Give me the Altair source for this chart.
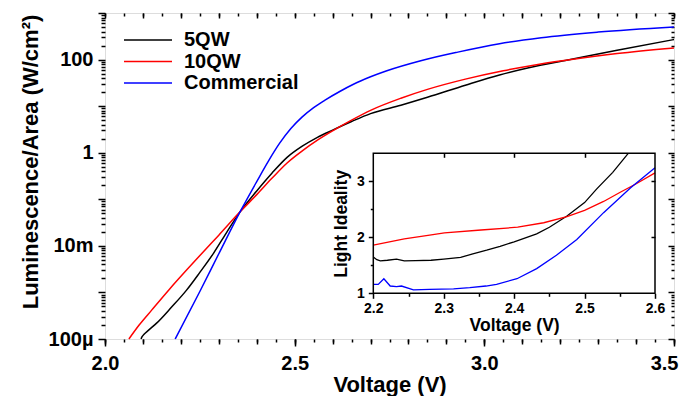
import math
import altair as alt
import pandas as pd

series_names = ["5QW", "10QW", "Commercial"]
series_colors = ["#000000", "#ff0000", "#0000ff"]

# ---- main plot: voltage (V) and log10 of luminescence/area (W/cm^2)
main_v_5qw = [2.095, 2.097, 2.103, 2.115, 2.136, 2.175, 2.215, 2.25, 2.286, 2.32, 2.356, 2.40, 2.44,
              2.48, 2.52, 2.56, 2.60, 2.65, 2.70, 2.78, 2.85, 2.95, 3.04, 3.12, 3.22, 3.35, 3.50]
main_lg_5qw = [-4.0, -3.96, -3.90, -3.81, -3.66, -3.32, -2.95, -2.57, -2.16, -1.72, -1.27, -0.82, -0.44,
               -0.10, 0.14, 0.33, 0.485, 0.67, 0.84, 1.02, 1.19, 1.45, 1.67, 1.83, 1.99, 2.20, 2.43]
main_v_10qw = [2.063, 2.09, 2.123, 2.17, 2.215, 2.26, 2.30, 2.356, 2.40, 2.44, 2.48, 2.52, 2.56, 2.60,
               2.65, 2.70, 2.78, 2.85, 2.95, 3.05, 3.13, 3.22, 3.35, 3.50]
main_lg_10qw = [-4.0, -3.70, -3.38, -2.93, -2.52, -2.12, -1.77, -1.27, -0.90, -0.55, -0.22, 0.04, 0.27,
                0.47, 0.70, 0.91, 1.17, 1.36, 1.58, 1.76, 1.88, 1.99, 2.13, 2.25]
main_v_comm = [2.185, 2.25, 2.30, 2.356, 2.40, 2.43, 2.46, 2.49, 2.52, 2.55, 2.58, 2.62, 2.655, 2.70,
               2.743, 2.83, 2.93, 3.04, 3.15, 3.30, 3.50]
main_lg_comm = [-4.0, -2.98, -2.17, -1.27, -0.62, -0.19, 0.20, 0.52, 0.77, 0.97, 1.13, 1.32, 1.47, 1.63,
                1.76, 1.97, 2.16, 2.34, 2.47, 2.59, 2.70]

# ---- inset: light ideality factor vs voltage
ins_v_5qw = [2.20, 2.205, 2.21, 2.22, 2.233, 2.244, 2.26, 2.282, 2.30, 2.324, 2.34, 2.361, 2.38, 2.40,
             2.432, 2.45, 2.475, 2.50, 2.517, 2.54, 2.562]
ins_i_5qw = [1.65, 1.60, 1.58, 1.59, 1.61, 1.58, 1.585, 1.59, 1.61, 1.64, 1.70, 1.77, 1.84, 1.92,
             2.06, 2.18, 2.38, 2.62, 2.86, 3.16, 3.50]
ins_v_10qw = [2.20, 2.244, 2.28, 2.301, 2.353, 2.405, 2.442, 2.475, 2.50, 2.527, 2.55, 2.574, 2.60]
ins_i_10qw = [1.86, 1.97, 2.04, 2.08, 2.13, 2.18, 2.26, 2.37, 2.48, 2.64, 2.80, 2.96, 3.15]
ins_v_comm = [2.20, 2.207, 2.215, 2.224, 2.233, 2.24, 2.257, 2.28, 2.314, 2.337, 2.36, 2.375, 2.404,
              2.432, 2.46, 2.489, 2.527, 2.565, 2.60]
ins_i_comm = [1.16, 1.16, 1.26, 1.13, 1.12, 1.13, 1.06, 1.07, 1.08, 1.10, 1.13, 1.16, 1.26,
              1.44, 1.68, 1.96, 2.44, 2.88, 3.24]

# ---- tick values / labels
main_x_labels = [2.0, 2.5, 3.0, 3.5]
main_y_labelled = [1e-4, 1e-2, 1.0, 1e2]
main_y_label_text = ["100µ", "10m", "1", "100"]
ins_x_labels = [2.2, 2.3, 2.4, 2.5, 2.6]
ins_y_labels = [1, 2, 3]

main_x_fine = [round(2.0 + 0.05 * i, 2) for i in range(31)]
main_x_mid = [round(2.0 + 0.1 * i, 1) for i in range(16)]
main_y_decades = [10.0 ** e for e in range(-4, 4)]
main_y_minor = [k * 10.0 ** e for e in range(-4, 3) for k in range(2, 10)]
ins_x_minor = [2.25, 2.35, 2.45, 2.55]
ins_y_minor = [1.5, 2.5]

rows = []
for name, vs, ls in [("5QW", main_v_5qw, main_lg_5qw), ("10QW", main_v_10qw, main_lg_10qw),
                     ("Commercial", main_v_comm, main_lg_comm)]:
    for i, (v, l) in enumerate(zip(vs, ls)):
        rows.append({"series": name, "V": v, "L": 10.0 ** l, "idx": i})
main_df = pd.DataFrame(rows)

rows = []
for name, vs, ls in [("5QW", ins_v_5qw, ins_i_5qw), ("10QW", ins_v_10qw, ins_i_10qw),
                     ("Commercial", ins_v_comm, ins_i_comm)]:
    for i, (v, l) in enumerate(zip(vs, ls)):
        rows.append({"series": name, "V": v, "I": l, "idx": i})
ins_df = pd.DataFrame(rows)

frame_df = pd.DataFrame({"x0": [2.2], "x1": [2.6], "y0": [1.0], "y1": [3.5]})

W, H = 569, 326
FONT = "Liberation Sans"

# inset placement inside plot area (pixels)
INS_X = [268.3, 550.0]
INS_Y = [280.3, 140.3]

def mx(axis):
    return alt.X("V:Q", scale=alt.Scale(domain=[2.0, 3.5], nice=False, zero=False), axis=axis)

def my(axis):
    return alt.Y("L:Q", scale=alt.Scale(type="log", domain=[1e-4, 1e3], nice=False), axis=axis)

def ix(axis, field="V:Q"):
    return alt.X(field, scale=alt.Scale(domain=[2.2, 2.6], range=INS_X, nice=False, zero=False), axis=axis)

def iy(axis, field="I:Q"):
    return alt.Y(field, scale=alt.Scale(domain=[1.0, 3.5], range=INS_Y, nice=False, zero=False), axis=axis)

ax_common = dict(domain=False, grid=False, tickColor="black", tickWidth=1.5, labelFlush=False)

label_expr = " : ".join(
    f"abs(log(datum.value)/log(10) - ({math.log10(v)})) < 0.01 ? '{t}'"
    for v, t in zip(main_y_labelled, main_y_label_text)
) + " : ''"

# main lines
main_lines = alt.Chart(main_df).mark_line(strokeWidth=1.5, interpolate="monotone").encode(
    x=mx(alt.Axis(orient="bottom", values=main_x_fine, tickSize=3, labels=False, title=None, **ax_common)),
    y=my(alt.Axis(orient="left", values=main_y_minor, tickSize=4, labels=False, title=None, **ax_common)),
    color=alt.Color("series:N", scale=alt.Scale(domain=series_names, range=series_colors),
                    legend=alt.Legend(orient="none", legendX=15, legendY=17, title=None,
                                      symbolType="M-1,0H7", symbolSize=144, symbolStrokeWidth=1.5,
                                      labelFontSize=20, labelFont=FONT, labelFontWeight="bold",
                                      labelColor="black", labelOffset=44, rowPadding=1.5,
                                      padding=0, labelLimit=300)),
    order="idx:Q",
)

main_b = alt.Chart(main_df).mark_point(opacity=0, size=1).encode(
    x=mx(alt.Axis(orient="bottom", values=main_x_mid, tickSize=5, labels=False, title=None, **ax_common)),
    y=my(alt.Axis(orient="left", values=main_y_decades, tickSize=7, labelExpr=label_expr, labelFontSize=20,
                  labelFont=FONT, labelFontWeight="bold", labelColor="black", labelPadding=5,
                  title="Luminescence/Area (W/cm²)", titleFont=FONT, titleFontSize=22,
                  titleFontWeight="bold", titleColor="black", titleX=-75, titleY=148.5,
                  titleAngle=270, titleBaseline="middle", titleAlign="center", **ax_common)),
)

# the last x label is kept inside the page edge
last_x = max(main_x_labels)
main_c = alt.Chart(main_df).mark_point(opacity=0, size=1).encode(
    x=mx(alt.Axis(orient="bottom", values=main_x_labels, tickSize=7, format=".1f", labelFontSize=20,
                  labelFont=FONT, labelFontWeight="bold", labelColor="black", labelPadding=7,
                  labelAlign={"condition": {"test": f"datum.value >= {last_x - 0.01}", "value": "right"},
                              "value": "center"},
                  labelOffset={"condition": {"test": f"datum.value >= {last_x - 0.01}", "value": 4},
                               "value": 0},
                  title="Voltage (V)", titleFont=FONT, titleFontSize=22, titleFontWeight="bold",
                  titleColor="black", titleY=52, titleBaseline="alphabetic", **ax_common)),
    y=my(None),
)

main_d = alt.Chart(main_df).mark_point(opacity=0, size=1).encode(
    x=mx(alt.Axis(orient="top", values=main_x_fine, tickSize=3, offset=-3, labels=False, title=None,
                  **ax_common)),
    y=my(alt.Axis(orient="right", values=main_y_minor, tickSize=3, offset=-3, labels=False, title=None,
                  **ax_common)),
)

main_e = alt.Chart(main_df).mark_point(opacity=0, size=1).encode(
    x=mx(alt.Axis(orient="top", values=main_x_mid, tickSize=5, offset=-5, labels=False, title=None,
                  **ax_common)),
    y=my(alt.Axis(orient="right", values=main_y_decades, tickSize=6, offset=-6, labels=False, title=None,
                  **ax_common)),
)

# inset
ins_lines = alt.Chart(ins_df).mark_line(strokeWidth=1.3).encode(
    x=ix(alt.Axis(orient="bottom", values=ins_x_labels, tickSize=5, offset=-(H - INS_Y[0]), format=".1f",
                  labelFontSize=14, labelFont=FONT, labelFontWeight="bold", labelColor="black",
                  labelPadding=3, title="Voltage (V)", titleFont=FONT, titleFontSize=17.5,
                  titleFontWeight="bold", titleColor="black", titleY=37, titleBaseline="alphabetic",
                  **ax_common)),
    y=iy(alt.Axis(orient="left", values=ins_y_labels, tickSize=5, offset=-INS_X[0], format="d",
                  labelFontSize=14, labelFont=FONT, labelFontWeight="bold", labelColor="black",
                  labelPadding=4, title="Light Ideality", titleFont=FONT, titleFontSize=17.5,
                  titleFontWeight="bold", titleColor="black", titleX=-32, titleBaseline="middle",
                  titleAngle=270, titleAlign="center", **ax_common)),
    color=alt.Color("series:N", scale=alt.Scale(domain=series_names, range=series_colors), legend=None),
    order="idx:Q",
)

ins_minor = alt.Chart(ins_df).mark_point(opacity=0, size=1).encode(
    x=ix(alt.Axis(orient="bottom", values=ins_x_minor, tickSize=3, offset=-(H - INS_Y[0]), labels=False,
                  title=None, **ax_common)),
    y=iy(alt.Axis(orient="left", values=ins_y_minor, tickSize=3, offset=-INS_X[0], labels=False,
                  title=None, **ax_common)),
)

ins_frame = alt.Chart(frame_df).mark_rect(fillOpacity=0, stroke="black", strokeWidth=1.5).encode(
    x=ix(alt.Axis(orient="top", values=[2.3, 2.4, 2.5], tickSize=4, offset=-(INS_Y[1] + 4),
                  labels=False, title=None, **ax_common), field="x0:Q"),
    x2="x1:Q",
    y=iy(alt.Axis(orient="right", values=[2, 3], tickSize=4, offset=-(W - INS_X[1] + 4),
                  labels=False, title=None, **ax_common), field="y0:Q"),
    y2="y1:Q",
)

chart = alt.layer(
    main_b, main_c, main_d, main_e, main_lines, ins_minor, ins_lines, ins_frame
).resolve_scale(
    x="independent", y="independent", color="independent"
).properties(
    width=W, height=H,
    autosize=alt.AutoSizeParams(type="none"),
    padding={"left": 97, "top": 5, "right": 5, "bottom": 60},
).configure_view(
    stroke="black", strokeWidth=2
).configure(
    font=FONT, background="white"
)

chart.save("out.html", embed_options={"renderer": "svg", "actions": False})
